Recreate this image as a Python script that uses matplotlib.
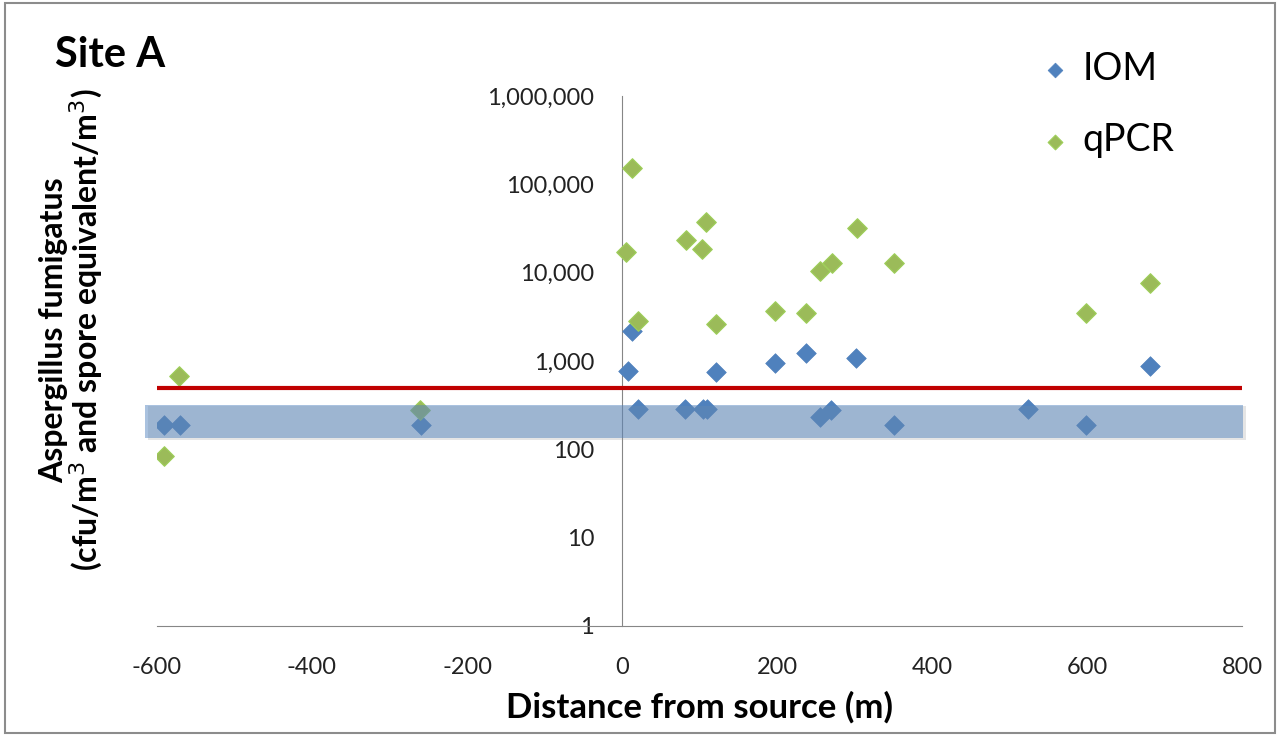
import numpy as np
import matplotlib.pyplot as plt
from matplotlib.patches import Rectangle
from matplotlib.ticker import FixedLocator, FuncFormatter

plt.rcParams['font.family'] = ['Lato', 'DejaVu Sans']
plt.rcParams['axes.unicode_minus'] = False

# IOM samples (blue)
iom_x = [-591, -570, -260, 8, 13, 21, 81, 104, 110, 121, 197, 237, 256, 270, 302, 351, 524, 599, 681]
iom_y = [190, 190, 190, 770, 2190, 285, 285, 285, 285, 750, 950, 1230, 232, 280, 1080, 189, 286, 189, 877]

# qPCR samples (green)
qpcr_x = [-591, -572, -261, 5, 13, 21, 82, 103, 109, 121, 198, 238, 256, 271, 303, 351, 599, 681]
qpcr_y = [84, 676, 279, 17100, 153000, 2840, 23400, 18500, 37500, 2620, 3680, 3500, 10400, 12900,
          32000, 12900, 3500, 7640]

threshold = 500
band_low, band_high = 134, 318
y_ticks = [1, 10, 100, 1000, 10000, 100000, 1000000]
x_ticks = [-600, -400, -200, 0, 200, 400, 600, 800]

fig = plt.figure(figsize=(12.8, 7.36), dpi=100)
ax = fig.add_axes([157/1280, 1 - 626/736, (1242-157)/1280, (626-96)/736])

ax.set_yscale('log')
ax.set_xlim(-600, 800)
ax.set_ylim(1, 1000000)

ax.scatter(iom_x, iom_y, marker='D', s=100, color='#4f81bd', edgecolor='#4f81bd', lw=0.5, zorder=3, label='IOM')
ax.scatter(qpcr_x, qpcr_y, marker='D', s=100, color='#9bbb59', edgecolor='#9fd05a', lw=0.8, zorder=3, label='qPCR')

ax.plot([-600, 800], [threshold, threshold], color='#c00000', lw=3, zorder=4, solid_capstyle='butt')

# shaded band (with a faint shadow)
ax.add_patch(Rectangle((-611, band_low * 0.96), 1416, band_high - band_low, color='#999999', alpha=0.25,
                       lw=0, zorder=4, clip_on=False))
ax.add_patch(Rectangle((-615, band_low), 1416, band_high - band_low, color='#4f81bd', alpha=0.48,
                       lw=0, zorder=5, clip_on=False))

for s in ['top', 'right']:
    ax.spines[s].set_visible(False)
ax.spines['left'].set_position(('data', 0))
ax.spines['left'].set_color('#868686')
ax.spines['bottom'].set_color('#868686')

ax.yaxis.set_major_locator(FixedLocator(y_ticks))
ax.yaxis.set_minor_locator(FixedLocator([]))
ax.yaxis.set_major_formatter(FuncFormatter(lambda v, p: f'{int(round(v)):,}'))
ax.set_xticks(x_ticks)
ax.tick_params(axis='y', length=0, pad=20, labelsize=17, labelcolor='#222222')
ax.tick_params(axis='x', length=0, pad=22, labelsize=17, labelcolor='#222222')

ax.set_xlabel('Distance from source (m)', fontsize=25, fontweight='bold', labelpad=10)
fig.text(72/1280, 1 - 330/736, 'Aspergillus fumigatus\n(cfu/m$^3$ and spore equivalent/m$^3$)',
         rotation=90, ha='center', va='center', fontsize=23, fontweight='bold', linespacing=1.0)
fig.text(55/1280, 1 - 55/736, 'Site A', fontsize=30, fontweight='bold', ha='left', va='center')

leg = ax.legend(loc='upper left', bbox_to_anchor=(1002/1280, 1 - 17/736), bbox_transform=fig.transFigure,
                frameon=False, fontsize=27, markerscale=0.75, handletextpad=0.25, labelspacing=0.95,
                handlelength=1.0)

fig.add_artist(Rectangle((0.004, 0.004), 0.992, 0.992, transform=fig.transFigure, fill=False,
                         edgecolor='#8c8c8c', lw=1.5))

fig.savefig('out.png', dpi=100)
